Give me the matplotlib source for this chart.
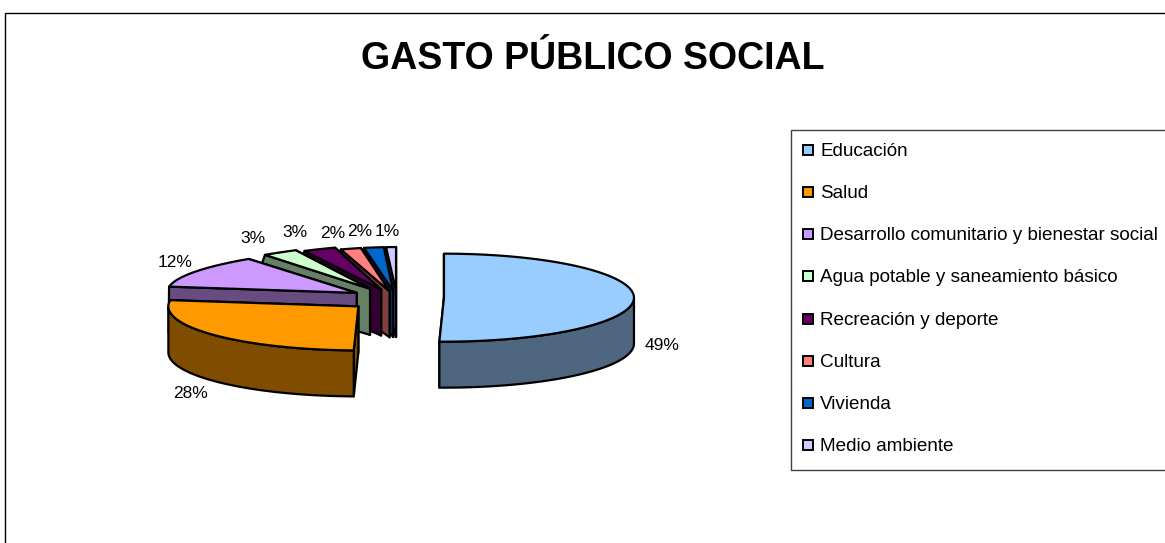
import numpy as np
import matplotlib
matplotlib.use("Agg")
import matplotlib.pyplot as plt
from matplotlib.patches import Polygon, Rectangle

plt.rcParams['font.family'] = ['Liberation Sans', 'DejaVu Sans']

categories = ['Educación', 'Salud', 'Desarrollo comunitario y bienestar social',
              'Agua potable y saneamiento básico', 'Recreación y deporte',
              'Cultura', 'Vivienda', 'Medio ambiente']
shares = [49, 28, 12, 3, 3, 2, 2, 1]
colors = ['#99CCFF', '#FF9900', '#CC99FF', '#CCFFCC', '#660066', '#FF8080', '#0066CC', '#CCCCFF']
side_colors = ['#4F6680', '#804D00', '#664C80', '#668066', '#330033', '#804040', '#003366', '#666680']

# how far each slice is pulled out of the pie, in pixels
explode = [47, 53, 46, 48, 40, 30, 30, 30]
# where the percent labels sit (text baseline)
label_xy = [(662, 350), (190, 398), (175, 267), (253, 243), (295, 237), (333, 238), (360, 236), (387, 236)]

W, H = 1165, 543
CX, CY = 397, 298
RX, RY = 190, 44
DEPTH = 46
VANISH_X = 395


def warp(a):
    # the 3D view turns the front of the pie a few degrees round
    return a + np.radians(5) * np.sin(a / 2) ** 4


def squeeze(x, y):
    # back left of the pie is narrower than the front
    if x >= VANISH_X:
        return x, y
    t = 0.15 * (np.clip(CY - y, 0, None) / 48) ** 3
    return x + (VANISH_X - x) * t, y


def slice_outline(i, a0, a1):
    mid = (a0 + a1) / 2
    cx = CX + explode[i] * np.sin(mid)
    cy = CY - explode[i] * RY / RX * np.cos(mid)
    ang = warp(np.linspace(a0, a1, 80))
    xs = cx + RX * np.sin(ang)
    ys = cy - RY * np.cos(ang)
    return cx, cy, ang, xs, ys


fig = plt.figure(figsize=(W / 100, H / 100), dpi=100)
ax = fig.add_axes([0, 0, 1, 1])
ax.set_xlim(0, W)
ax.set_ylim(H, 0)
ax.axis('off')

# chart frame, runs off the right and bottom of the image
ax.add_patch(Rectangle((5, 13), W + 20, H + 20, fc='white', ec='black', lw=1.0))

ax.text(593, 69, 'GASTO PÚBLICO SOCIAL', ha='center', va='baseline',
        fontsize=27, fontweight='bold', color='black')

edges = np.cumsum([0] + shares) / sum(shares) * 2 * np.pi

# back to front: last slices first, Educación on top
for i in range(len(shares) - 1, -1, -1):
    a0, a1 = edges[i], edges[i + 1]
    cx, cy, ang, xs, ys = slice_outline(i, a0, a1)
    style = dict(fc=side_colors[i], ec='black', lw=1.6, joinstyle='round')

    # the two cut faces
    for j in (-1, 0):
        pts = [(cx, cy), (xs[j], ys[j]), (xs[j], ys[j] + DEPTH), (cx, cy + DEPTH)]
        pts = [squeeze(px, py) for px, py in pts]
        ax.add_patch(Polygon(pts, closed=True, **style))

    # outer wall, only the part facing us
    front = np.cos(ang) <= 0
    if front.any():
        top = [squeeze(px, py) for px, py in zip(xs[front], ys[front])]
        bottom = [squeeze(px, py + DEPTH) for px, py in zip(xs[front], ys[front])]
        ax.add_patch(Polygon(top + bottom[::-1], closed=True, **style))

    pts = [squeeze(cx, cy)] + [squeeze(px, py) for px, py in zip(xs, ys)]
    ax.add_patch(Polygon(pts, closed=True, fc=colors[i], ec='black', lw=1.6, joinstyle='round'))

for (lx, ly), share in zip(label_xy, shares):
    ax.text(lx, ly, f'{share}%', ha='center', va='baseline', fontsize=12.5, color='black')

# legend box
ax.add_patch(Rectangle((791, 130), W, 340, fc='white', ec='#404040', lw=1.0))
legend_y = np.linspace(150, 445, len(categories))
for name, col, y in zip(categories, colors, legend_y):
    ax.add_patch(Rectangle((803, y - 5), 10, 10, fc=col, ec='black', lw=1.4))
    ax.text(820, y + 6, name, ha='left', va='baseline', fontsize=13.6, color='black')

fig.savefig('out.png', dpi=100)
